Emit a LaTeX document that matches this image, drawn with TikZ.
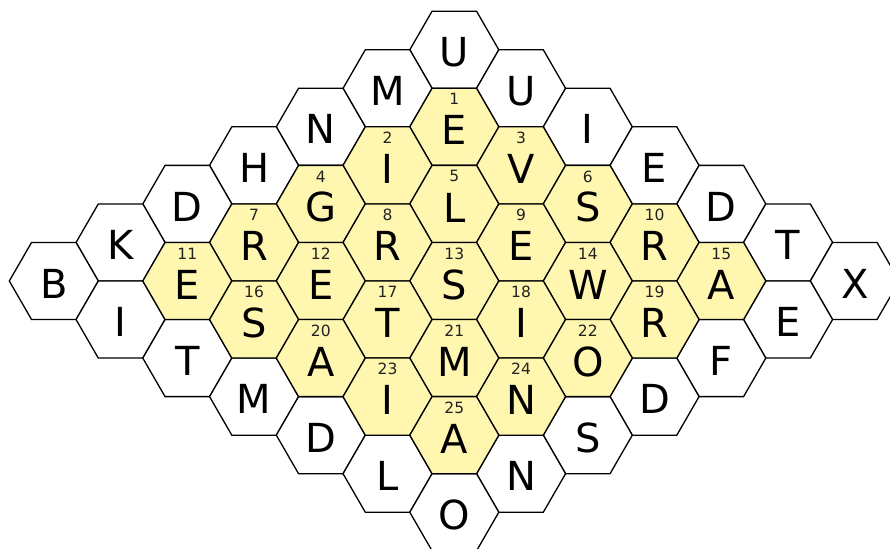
\documentclass[tikz,border=0pt]{standalone}
\usepackage{fontspec}
\setmainfont{DejaVu Sans}
\definecolor{hexyellow}{RGB}{255,247,176}
\definecolor{numgray}{RGB}{34,34,34}
\begin{document}
\begin{tikzpicture}[x=1pt,y=-1pt,
  hexline/.style={draw=black,line width=1.3pt,line join=miter},
  whitehex/.style={hexline,fill=white},
  yellowhex/.style={hexline,fill=hexyellow},
  letter/.style={font=\fontsize{40}{40}\selectfont,inner sep=0pt,text=black},
  numlabel/.style={font=\fontsize{15.5}{15.5}\selectfont,inner sep=0pt,text=numgray}]
\useasboundingbox (0,0) rectangle (890,548);
\fill[white] (0,0) rectangle (890,548);
\clip (0,0) rectangle (890,548);
\def\R{44.5}
% white ring
\foreach \c/\h/\t [count=\i] in {0/-6/U,-1/-5/M,1/-5/U,-2/-4/N,2/-4/I,-3/-3/H,3/-3/E,-4/-2/D,4/-2/D,-5/-1/K,5/-1/T,-6/0/B,6/0/X,-5/1/I,5/1/E,-4/2/T,4/2/F,-3/3/M,3/3/D,-2/4/D,2/4/S,-1/5/L,1/5/N,0/6/O}{
  \pgfmathsetmacro\px{454.3+66.75*\c}
  \pgfmathsetmacro\py{281+38.54*\h}
  \draw[whitehex,shift={(\px,\py)}] (0:\R) -- (60:\R) -- (120:\R) -- (180:\R) -- (240:\R) -- (300:\R) -- cycle;
  \node[letter] (w\i) at (\px,\py+2.5) {\t};
}
% yellow rhombus
\foreach \c/\h/\t [count=\i] in {0/-4/E,-1/-3/I,1/-3/V,-2/-2/G,0/-2/L,2/-2/S,-3/-1/R,-1/-1/R,1/-1/E,3/-1/R,-4/0/E,-2/0/E,0/0/S,2/0/W,4/0/A,-3/1/S,-1/1/T,1/1/I,3/1/R,-2/2/A,0/2/M,2/2/O,-1/3/I,1/3/N,0/4/A}{
  \pgfmathsetmacro\px{454.3+66.75*\c}
  \pgfmathsetmacro\py{281+38.54*\h}
  \draw[yellowhex,shift={(\px,\py)}] (0:\R) -- (60:\R) -- (120:\R) -- (180:\R) -- (240:\R) -- (300:\R) -- cycle;
  \node[numlabel] (n\i) at (\px,\py-27.5) {\i};
  \node[letter] (y\i) at (\px,\py+3.5) {\t};
}
\end{tikzpicture}
\end{document}
